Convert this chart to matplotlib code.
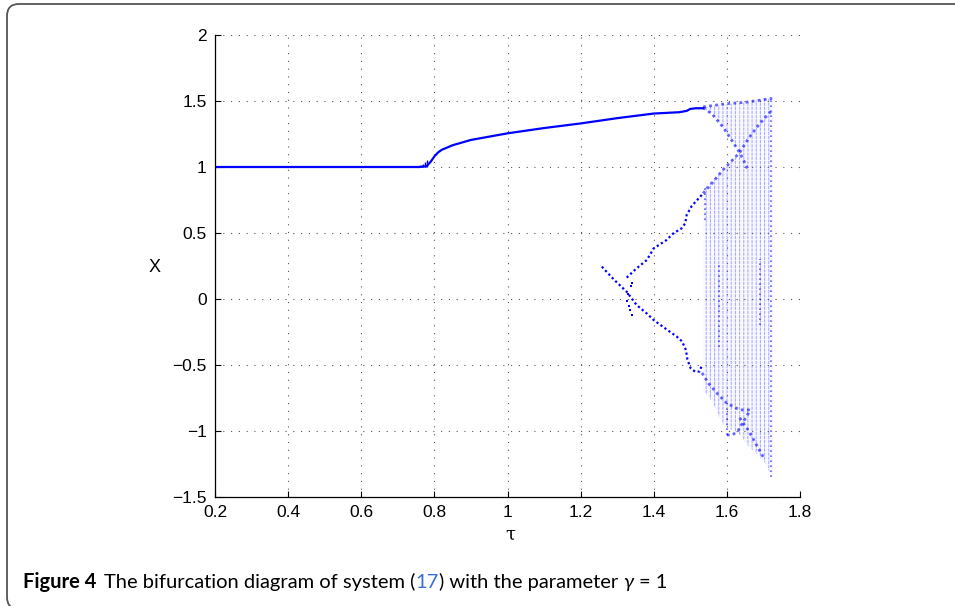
import numpy as np
import matplotlib
matplotlib.use("Agg")
import matplotlib.pyplot as plt
from matplotlib.patches import FancyBboxPatch

# ---- data ----
# single branch (tau, X)
main_tau = [0.2, 0.76, 0.775, 0.78, 0.79, 0.80, 0.81, 0.82, 0.85, 0.9, 0.95, 1.0,
            1.1, 1.2, 1.3, 1.4, 1.47, 1.49, 1.50, 1.515, 1.535]
main_x = [1.0, 1.0, 1.005, 1.01, 1.04, 1.08, 1.11, 1.13, 1.165, 1.205, 1.23, 1.255,
          1.295, 1.33, 1.37, 1.405, 1.415, 1.425, 1.44, 1.445, 1.445]

# short vertical hash where the branch leaves X = 1
hash_tau = [0.75, 0.755, 0.76, 0.765, 0.77, 0.775, 0.78]
hash_top = [1.005, 1.01, 1.012, 1.018, 1.025, 1.035, 1.05]

# period-2 branches
up_tau = [1.326, 1.353, 1.381, 1.40, 1.435, 1.454, 1.476, 1.486, 1.49, 1.504, 1.527, 1.535]
up_x = [0.162, 0.232, 0.295, 0.384, 0.447, 0.498, 0.535, 0.573, 0.636, 0.705, 0.775, 0.80]
low_tau = [1.258, 1.29, 1.326, 1.353, 1.381, 1.40, 1.435, 1.463, 1.477, 1.488, 1.492,
           1.501, 1.513, 1.525, 1.532]
low_x = [0.245, 0.15, 0.055, -0.045, -0.11, -0.16, -0.23, -0.285, -0.32, -0.386, -0.457,
         -0.525, -0.55, -0.55, -0.5]
stub_tau = [1.34, 1.337, 1.33, 1.326, 1.332, 1.334, 1.341]
stub_x = [0.124, 0.095, 0.04, -0.015, -0.053, -0.083, -0.119]

# chaotic band: main body and the thin strip under the top edge
body_tau = [1.535, 1.56, 1.59, 1.635, 1.636, 1.66, 1.68, 1.70, 1.724]
body_hi = [0.83, 0.90, 0.98, 1.11, 1.485, 1.495, 1.505, 1.515, 1.52]
body_lo = [-0.69, -0.78, -0.95, -1.03, -1.03, -1.12, -1.17, -1.22, -1.35]
strip_tau = [1.535, 1.56, 1.59, 1.635]
strip_hi = [1.455, 1.465, 1.475, 1.485]
strip_lo = [1.44, 1.40, 1.30, 1.11]

# denser structures inside the band
top_tau = [1.535, 1.56, 1.60, 1.65, 1.70, 1.724]
top_x = [1.455, 1.465, 1.48, 1.49, 1.51, 1.52]
rise_tau = [1.535, 1.56, 1.59, 1.635, 1.66, 1.69, 1.72]
rise_x = [0.80, 0.88, 0.98, 1.11, 1.22, 1.33, 1.42]
fall_tau = [1.535, 1.56, 1.59, 1.635, 1.658]
fall_x = [1.45, 1.40, 1.30, 1.11, 0.98]
lowband_tau = [1.532, 1.55, 1.575, 1.60, 1.635, 1.67]
lowband_x = [-0.56, -0.64, -0.72, -0.79, -0.84, -0.84]
hook_tau = [1.60, 1.615, 1.63, 1.645, 1.66]
hook_x = [-1.03, -1.03, -1.0, -0.93, -0.86]
drop_tau = [1.635, 1.66, 1.68, 1.70]
drop_x = [-0.90, -1.0, -1.1, -1.2]
col_tau = [1.54, 1.578, 1.60, 1.69, 1.72]
col_lo = [0.60, -0.36, -1.03, -0.2, -1.35]
col_hi = [0.85, 0.27, -0.80, 0.3, 1.52]

xticks = [0.2, 0.4, 0.6, 0.8, 1.0, 1.2, 1.4, 1.6, 1.8]
xticklabels = ["0.2", "0.4", "0.6", "0.8", "1", "1.2", "1.4", "1.6", "1.8"]
yticks = [-1.5, -1, -0.5, 0, 0.5, 1, 1.5, 2]
yticklabels = ["\u22121.5", "\u22121", "\u22120.5", "0", "0.5", "1", "1.5", "2"]

blue = "#0000ff"
plt.rcParams["hatch.linewidth"] = 0.8

W, H = 955, 606
fig = plt.figure(figsize=(W / 100, H / 100), dpi=100)
ax = fig.add_axes([215 / W, 1 - 497 / H, 585 / W, 462 / H])

# chaotic cloud: vertical hatching, broken up by a white horizontal hatch
for t, lo, hi in [(body_tau, body_lo, body_hi), (strip_tau, strip_lo, strip_hi)]:
    ax.fill_between(t, lo, hi, facecolor=(0, 0, 1, 0.03),
                    edgecolor=(0.2, 0.2, 1, 0.38), hatch="||||", linewidth=0)
    ax.fill_between(t, lo, hi, facecolor="none",
                    edgecolor=(1, 1, 1, 0.75), hatch="----", linewidth=0)

dotted = (0, (1, 1.2))
for t, x in [(top_tau, top_x), (rise_tau, rise_x), (fall_tau, fall_x),
             (lowband_tau, lowband_x), (hook_tau, hook_x), (drop_tau, drop_x)]:
    ax.plot(t, x, color=blue, lw=2.0, ls=dotted, alpha=0.6)
ax.vlines(col_tau, col_lo, col_hi, color=blue, lw=1.2, linestyles=(0, (1, 2)), alpha=0.6)

# main branch
ax.plot(main_tau, main_x, color=blue, lw=1.6)
ax.vlines(hash_tau, 1.0, hash_top, color=blue, lw=1.0)

# period-2 branches
ax.plot(up_tau, up_x, color=blue, lw=1.6, ls=dotted)
ax.plot(low_tau, low_x, color=blue, lw=1.6, ls=dotted)
ax.plot(stub_tau, stub_x, "s", color=blue, ms=1.8, mew=0)

ax.set_xlim(0.2, 1.8)
ax.set_ylim(-1.5, 2)
ax.set_xticks(xticks)
ax.set_xticklabels(xticklabels)
ax.set_yticks(yticks)
ax.set_yticklabels(yticklabels)
ax.grid(True, color="#555555", ls=(0, (1, 6)), lw=0.8)
for s in ["top", "right"]:
    ax.spines[s].set_visible(False)
for s in ["left", "bottom"]:
    ax.spines[s].set_linewidth(0.9)
ax.tick_params(direction="in", length=4, width=0.8, labelsize=12.5, pad=6)
for lab in ax.get_xticklabels() + ax.get_yticklabels():
    lab.set_family("Liberation Sans")

fig.text(155 / W, 1 - 268 / H, "X", fontsize=13, family="Liberation Sans",
         ha="center", va="center")
fig.text(510 / W, 1 - 535 / H, "\u03c4", fontsize=13, family="DejaVu Serif",
         ha="center", va="center")

# rounded frame
frame = FancyBboxPatch((7, -3), 980, 605, boxstyle="round,pad=0,rounding_size=12",
                       transform=None, facecolor="none", edgecolor="#555555", lw=1.3)
fig.patches.append(frame)

# caption, assembled piece by piece
cap_font = ["Lato", "DejaVu Sans"]
pieces = [("Figure 4", "bold", "black", "normal", 0),
          ("The bifurcation diagram of system (", "normal", "black", "normal", 8),
          ("17", "normal", "#3a6fd8", "normal", 0),
          (") with the parameter ", "normal", "black", "normal", 0),
          ("\u03b3", "normal", "black", "italic", 0),
          ("= 1", "normal", "black", "normal", 5)]
renderer = fig.canvas.get_renderer()
xpos = 23
for txt, weight, col, style, gap in pieces:
    t = fig.text((xpos + gap) / W, 1 - 588 / H, txt, fontsize=14.5, family=cap_font,
                 weight=weight, color=col, style=style, ha="left", va="baseline")
    xpos = t.get_window_extent(renderer).x1

fig.savefig("out.png", dpi=100)
